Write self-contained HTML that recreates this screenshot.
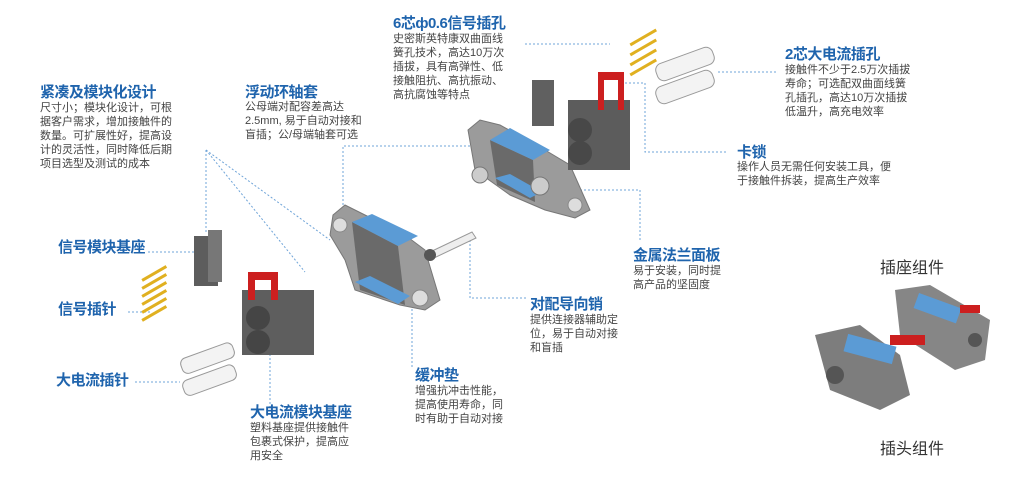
<!DOCTYPE html>
<html><head><meta charset="utf-8"><style>
html,body{margin:0;padding:0;background:#fff}
#c{position:relative;width:1015px;height:484px;overflow:hidden;font-family:"Liberation Sans","Noto Sans CJK SC",sans-serif}
.t{position:absolute;color:#1f64ad;font-weight:bold;font-size:15px;line-height:18px;white-space:nowrap;letter-spacing:-0.5px}
.b{position:absolute;color:#444;font-size:11px;line-height:14px;white-space:nowrap}
.g{position:absolute;color:#333;font-size:16px;white-space:nowrap}
svg{position:absolute;left:0;top:0}
</style></head><body><div id="c">
<svg width="1015" height="484">
<g stroke="#6fa4d8" stroke-width="1" stroke-dasharray="2,2" fill="none">
<line x1="206" y1="150" x2="206" y2="234"/>
<line x1="206" y1="150" x2="305" y2="272"/>
<line x1="206" y1="150" x2="330" y2="240"/>
<line x1="148" y1="252" x2="205" y2="252"/>
<line x1="128" y1="312" x2="150" y2="312"/>
<line x1="135" y1="382" x2="180" y2="382"/>
<polyline points="343,225 343,146 480,146"/>
<line x1="525" y1="44" x2="610" y2="44"/>
<line x1="718" y1="72" x2="778" y2="72"/>
<polyline points="625,83 645,83 645,152 727,152"/>
<polyline points="560,190 640,190 640,242"/>
<polyline points="470,240 470,298 528,298"/>
<polyline points="412,265 412,368"/>
<line x1="270" y1="350" x2="270" y2="410"/>
</g>
<!-- signal base -->
<rect x="194" y="236" width="24" height="50" fill="#5d5d5d"/><rect x="208" y="230" width="14" height="52" fill="#777"/>
<g fill="#e0b020"><rect x="140" y="272" width="28" height="3" transform="rotate(-30 154 273)"/><rect x="140" y="280" width="28" height="3" transform="rotate(-30 154 281)"/><rect x="140" y="288" width="28" height="3" transform="rotate(-30 154 289)"/><rect x="140" y="296" width="28" height="3" transform="rotate(-30 154 297)"/><rect x="140" y="304" width="28" height="3" transform="rotate(-30 154 305)"/><rect x="140" y="312" width="28" height="3" transform="rotate(-30 154 313)"/></g>
<!-- current pins -->
<g fill="#f3f3f3" stroke="#999"><rect x="180" y="350" width="55" height="16" rx="6" transform="rotate(-20 208 358)"/><rect x="182" y="372" width="55" height="16" rx="6" transform="rotate(-20 210 380)"/></g>
<!-- current base -->
<rect x="242" y="290" width="72" height="65" fill="#5e5e5e"/><circle cx="258" cy="318" r="12" fill="#454545"/><circle cx="258" cy="342" r="12" fill="#454545"/>
<path d="M248 272 h30 v28 h-7 v-20 h-16 v20 h-7z" fill="#cc1f1f"/>
<!-- center flange -->
<polygon points="333,215 345,205 365,215 405,235 425,250 440,300 425,310 400,305 355,290 345,260 330,235" fill="#9b9b9b" stroke="#777"/>
<polygon points="352,222 360,290 405,305 398,246" fill="#6a6a6a"/>
<polygon points="352,222 372,214 418,236 398,246" fill="#5b9bd5"/>
<polygon points="355,282 370,276 410,296 398,304" fill="#5b9bd5"/>
<circle cx="340" cy="225" r="7" fill="#ddd" stroke="#888"/><circle cx="420" cy="298" r="8" fill="#ddd" stroke="#888"/>
<polygon points="430,252 472,232 476,238 434,258" fill="#eee" stroke="#999"/>
<circle cx="430" cy="255" r="6" fill="#555"/>
<!-- top flange -->
<polygon points="468,130 480,120 500,125 545,150 570,165 590,210 575,218 545,210 510,195 475,170" fill="#9b9b9b" stroke="#777"/>
<polygon points="490,140 497,185 535,202 533,160" fill="#6a6a6a"/>
<polygon points="490,140 510,128 550,150 533,160" fill="#5b9bd5"/>
<polygon points="495,178 510,174 542,192 530,198" fill="#5b9bd5"/>
<circle cx="480" cy="175" r="8" fill="#ccc" stroke="#777"/><circle cx="540" cy="186" r="9" fill="#ccc" stroke="#777"/><circle cx="575" cy="205" r="7" fill="#ddd" stroke="#888"/>
<rect x="532" y="80" width="22" height="46" fill="#606060"/>
<rect x="568" y="100" width="62" height="70" fill="#5c5c5c"/><circle cx="580" cy="130" r="12" fill="#484848"/><circle cx="580" cy="153" r="12" fill="#484848"/>
<path d="M598 72 h26 v38 h-6 v-30 h-14 v30 h-6z" fill="#cc1f1f"/>
<g fill="#e0b020"><rect x="628" y="36" width="30" height="3" transform="rotate(-30 643 37)"/><rect x="628" y="46" width="30" height="3" transform="rotate(-30 643 47)"/><rect x="628" y="56" width="30" height="3" transform="rotate(-30 643 57)"/><rect x="628" y="66" width="30" height="3" transform="rotate(-30 643 67)"/></g>
<g fill="#f3f3f3" stroke="#999"><rect x="655" y="55" width="60" height="18" rx="7" transform="rotate(-20 685 64)"/><rect x="655" y="78" width="60" height="18" rx="7" transform="rotate(-20 685 87)"/></g>
<!-- assembled -->
<path d="M815 335 L860 325 L900 355 L910 395 L880 410 L830 390z" fill="#7d7d7d"/>
<path d="M895 290 L930 285 L990 320 L985 360 L955 370 L900 335z" fill="#868686"/>
<rect x="845" y="340" width="50" height="18" fill="#5b9bd5" transform="rotate(15 870 349)"/>
<rect x="915" y="300" width="45" height="16" fill="#5b9bd5" transform="rotate(20 937 308)"/>
<rect x="890" y="335" width="35" height="10" fill="#cc1f1f"/><rect x="960" y="305" width="20" height="8" fill="#cc1f1f"/>
<circle cx="835" cy="375" r="9" fill="#555"/><circle cx="975" cy="340" r="7" fill="#555"/>
</svg>

<div class="t" style="left:40px;top:84px">紧凑及模块化设计</div>
<div class="b" style="left:40px;top:101px">尺寸小；模块化设计，可根<br>据客户需求，增加接触件的<br>数量。可扩展性好，提高设<br>计的灵活性，同时降低后期<br>项目选型及测试的成本</div>
<div class="t" style="left:245px;top:84px">浮动环轴套</div>
<div class="b" style="left:245px;top:100px">公母端对配容差高达<br>2.5mm, 易于自动对接和<br>盲插；公/母端轴套可选</div>
<div class="t" style="left:393px;top:15px">6芯ф0.6信号插孔</div>
<div class="b" style="left:393px;top:32px">史密斯英特康双曲面线<br>簧孔技术，高达10万次<br>插拔，具有高弹性、低<br>接触阻抗、高抗振动、<br>高抗腐蚀等特点</div>
<div class="t" style="left:785px;top:46px">2芯大电流插孔</div>
<div class="b" style="left:785px;top:63px">接触件不少于2.5万次插拔<br>寿命；可选配双曲面线簧<br>孔插孔，高达10万次插拔<br>低温升，高充电效率</div>
<div class="t" style="left:737px;top:144px">卡锁</div>
<div class="b" style="left:737px;top:160px">操作人员无需任何安装工具，便<br>于接触件拆装，提高生产效率</div>
<div class="t" style="left:633px;top:247px">金属法兰面板</div>
<div class="b" style="left:633px;top:264px">易于安装，同时提<br>高产品的坚固度</div>
<div class="t" style="left:530px;top:296px">对配导向销</div>
<div class="b" style="left:530px;top:313px">提供连接器辅助定<br>位，易于自动对接<br>和盲插</div>
<div class="t" style="left:415px;top:367px">缓冲垫</div>
<div class="b" style="left:415px;top:384px">增强抗冲击性能，<br>提高使用寿命，同<br>时有助于自动对接</div>
<div class="t" style="left:250px;top:404px">大电流模块基座</div>
<div class="b" style="left:250px;top:421px">塑料基座提供接触件<br>包裹式保护，提高应<br>用安全</div>
<div class="t" style="left:58px;top:239px">信号模块基座</div>
<div class="t" style="left:58px;top:301px">信号插针</div>
<div class="t" style="left:56px;top:372px">大电流插针</div>
<div class="g" style="left:880px;top:254px">插座组件</div>
<div class="g" style="left:880px;top:435px">插头组件</div>
</div></body></html>
